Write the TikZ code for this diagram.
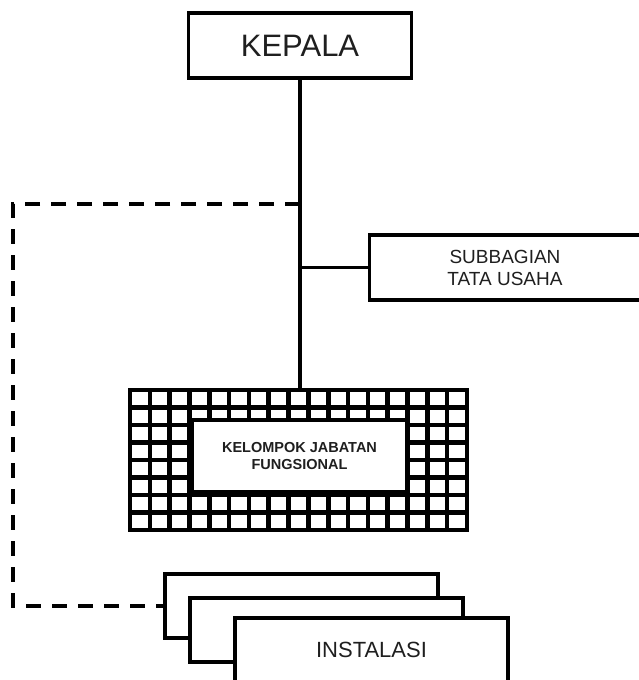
\documentclass[tikz,border=0pt]{standalone}
\usepackage{fontspec}
\setmainfont{Liberation Sans}
\tikzset{
  kotak/.style={draw, line width=3.6pt, fill=white, rectangle, inner sep=0pt, text=black!88, align=center},
  garis/.style={line width=3.4pt},
  putus/.style={line width=3.6pt, dash pattern=on 15pt off 11pt},
  kisi/.style={line width=4.6pt},
}
\begin{document}
\begin{tikzpicture}[x=1pt,y=-1pt]
\useasboundingbox (0,0) rectangle (639,680);

% kepala dan subbagian
\node[kotak, minimum width=223pt, minimum height=65pt, font=\fontsize{31}{34}\selectfont] (kepala) at (300,45.5) {KEPALA};
\node[kotak, minimum width=271pt, minimum height=65pt, font=\fontsize{19}{22}\selectfont] (tu) at (505,267.5) {SUBBAGIAN\\TATA USAHA};

% kelompok jabatan fungsional
\node[draw, kisi, minimum width=337pt, minimum height=140pt, inner sep=0pt] (jabfung) at (298.5,460) {};
\foreach \k in {1,...,16}
  \draw[kisi] (130+\k*19.82,390) -- (130+\k*19.82,530);
\foreach \b in {1,...,7}
  \draw[kisi] (130,390+\b*17.5) -- (467,390+\b*17.5);
\node[kotak, line width=4pt, minimum width=215pt, minimum height=72pt, font=\fontsize{14.5}{17}\selectfont\bfseries] (kjf) at (299.5,456) {KELOMPOK JABATAN\\FUNGSIONAL};

% instalasi
\node[kotak, minimum width=273pt, minimum height=64pt] (inst1) at (301.5,606) {};
\node[kotak, minimum width=273pt, minimum height=64pt] (inst2) at (326.5,630) {};
\node[kotak, minimum width=273pt, minimum height=64pt, font=\fontsize{22}{25}\selectfont] (inst3) at (371.5,650) {INSTALASI};

% garis
\draw[garis] (kepala.south) -- (kepala.south |- jabfung.north);
\draw[garis] (kepala.south |- tu.west) -- (tu.west);
\coordinate (sudut) at (13,204);
\draw[putus] (kepala.south |- sudut) -- (sudut) |- (inst1.west);

\end{tikzpicture}
\end{document}
